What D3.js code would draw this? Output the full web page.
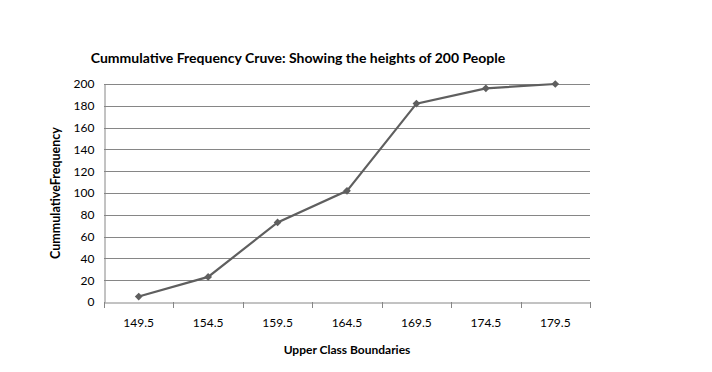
<!DOCTYPE html>
<html><head><meta charset="utf-8">
<script src="https://cdn.jsdelivr.net/npm/d3@7"></script>
<style>body{margin:0;background:#fff}svg{display:block}</style>
</head><body>
<script>
const categories = ["149.5","154.5","159.5","164.5","169.5","174.5","179.5"];
const values = [5, 23, 73, 102, 182, 196, 200];
const yTicks = [0,20,40,60,80,100,120,140,160,180,200];
const titleText = "Cummulative Frequency Cruve: Showing the heights of 200 People";
const xTitle = "Upper Class Boundaries";
const yTitle = "CummulativeFrequency";

const W = 712, H = 372;
const m = {left:104, right:122, top:84, bottom:70};
const font = "Lato, 'Open Sans', sans-serif";
const svg = d3.select("body").append("svg").attr("width",W).attr("height",H);
const x = d3.scaleBand().domain(categories).range([m.left, W-m.right]);
const y = d3.scaleLinear().domain([0,200]).range([H-m.bottom, m.top]);

const g = svg.append("g");
g.selectAll("line.grid").data(yTicks.filter(d=>d>0)).join("line")
  .attr("x1", m.left).attr("x2", W-m.right)
  .attr("y1", d=>Math.round(y(d))+0.5).attr("y2", d=>Math.round(y(d))+0.5)
  .attr("stroke","#868686").attr("stroke-width",1);

const yAxis = svg.append("g").attr("transform",`translate(${m.left+0.5},0)`)
  .call(d3.axisLeft(y).tickValues(yTicks).tickSize(0).tickPadding(10));
yAxis.select(".domain").attr("stroke","#868686");
yAxis.selectAll("text").attr("font-family",font).attr("font-size",12).attr("fill","#000");

const xAxis = svg.append("g").attr("transform",`translate(0,${Math.round(y(0))+0.5})`)
  .call(d3.axisBottom(x).tickSize(0).tickPadding(16));
xAxis.select(".domain").attr("stroke","#868686");
xAxis.selectAll("text").attr("font-family",font).attr("font-size",12).attr("fill","#000");
const bounds = categories.map(c=>x(c)).concat([x(categories[categories.length-1])+x.bandwidth()]);
svg.append("g").selectAll("line").data(bounds).join("line")
  .attr("x1",d=>Math.round(d)+0.5).attr("x2",d=>Math.round(d)+0.5)
  .attr("y1",Math.round(y(0))).attr("y2",Math.round(y(0))+6)
  .attr("stroke","#868686");

const cx = d=>x(d)+x.bandwidth()/2;
svg.append("path").datum(values)
  .attr("d", d3.line().x((d,i)=>cx(categories[i])).y(d=>y(d)))
  .attr("fill","none").attr("stroke","#5f5f5f").attr("stroke-width",2.2);
svg.append("g").selectAll("path").data(values).join("path")
  .attr("transform",(d,i)=>`translate(${cx(categories[i])},${y(d)}) rotate(45)`)
  .attr("d", d3.symbol(d3.symbolSquare, 30))
  .attr("fill","#5f5f5f");

svg.append("text").attr("x",298).attr("y",63).attr("text-anchor","middle")
  .attr("font-family",font).attr("font-weight","bold").attr("font-size",14).text(titleText);
svg.append("text").attr("x",347).attr("y",354).attr("text-anchor","middle")
  .attr("font-family",font).attr("font-weight","bold").attr("font-size",12).text(xTitle);
svg.append("text").attr("transform","translate(60,193) rotate(-90)").attr("text-anchor","middle")
  .attr("font-family",font).attr("font-weight","bold").attr("font-size",12.5).text(yTitle);
</script>
</body></html>
